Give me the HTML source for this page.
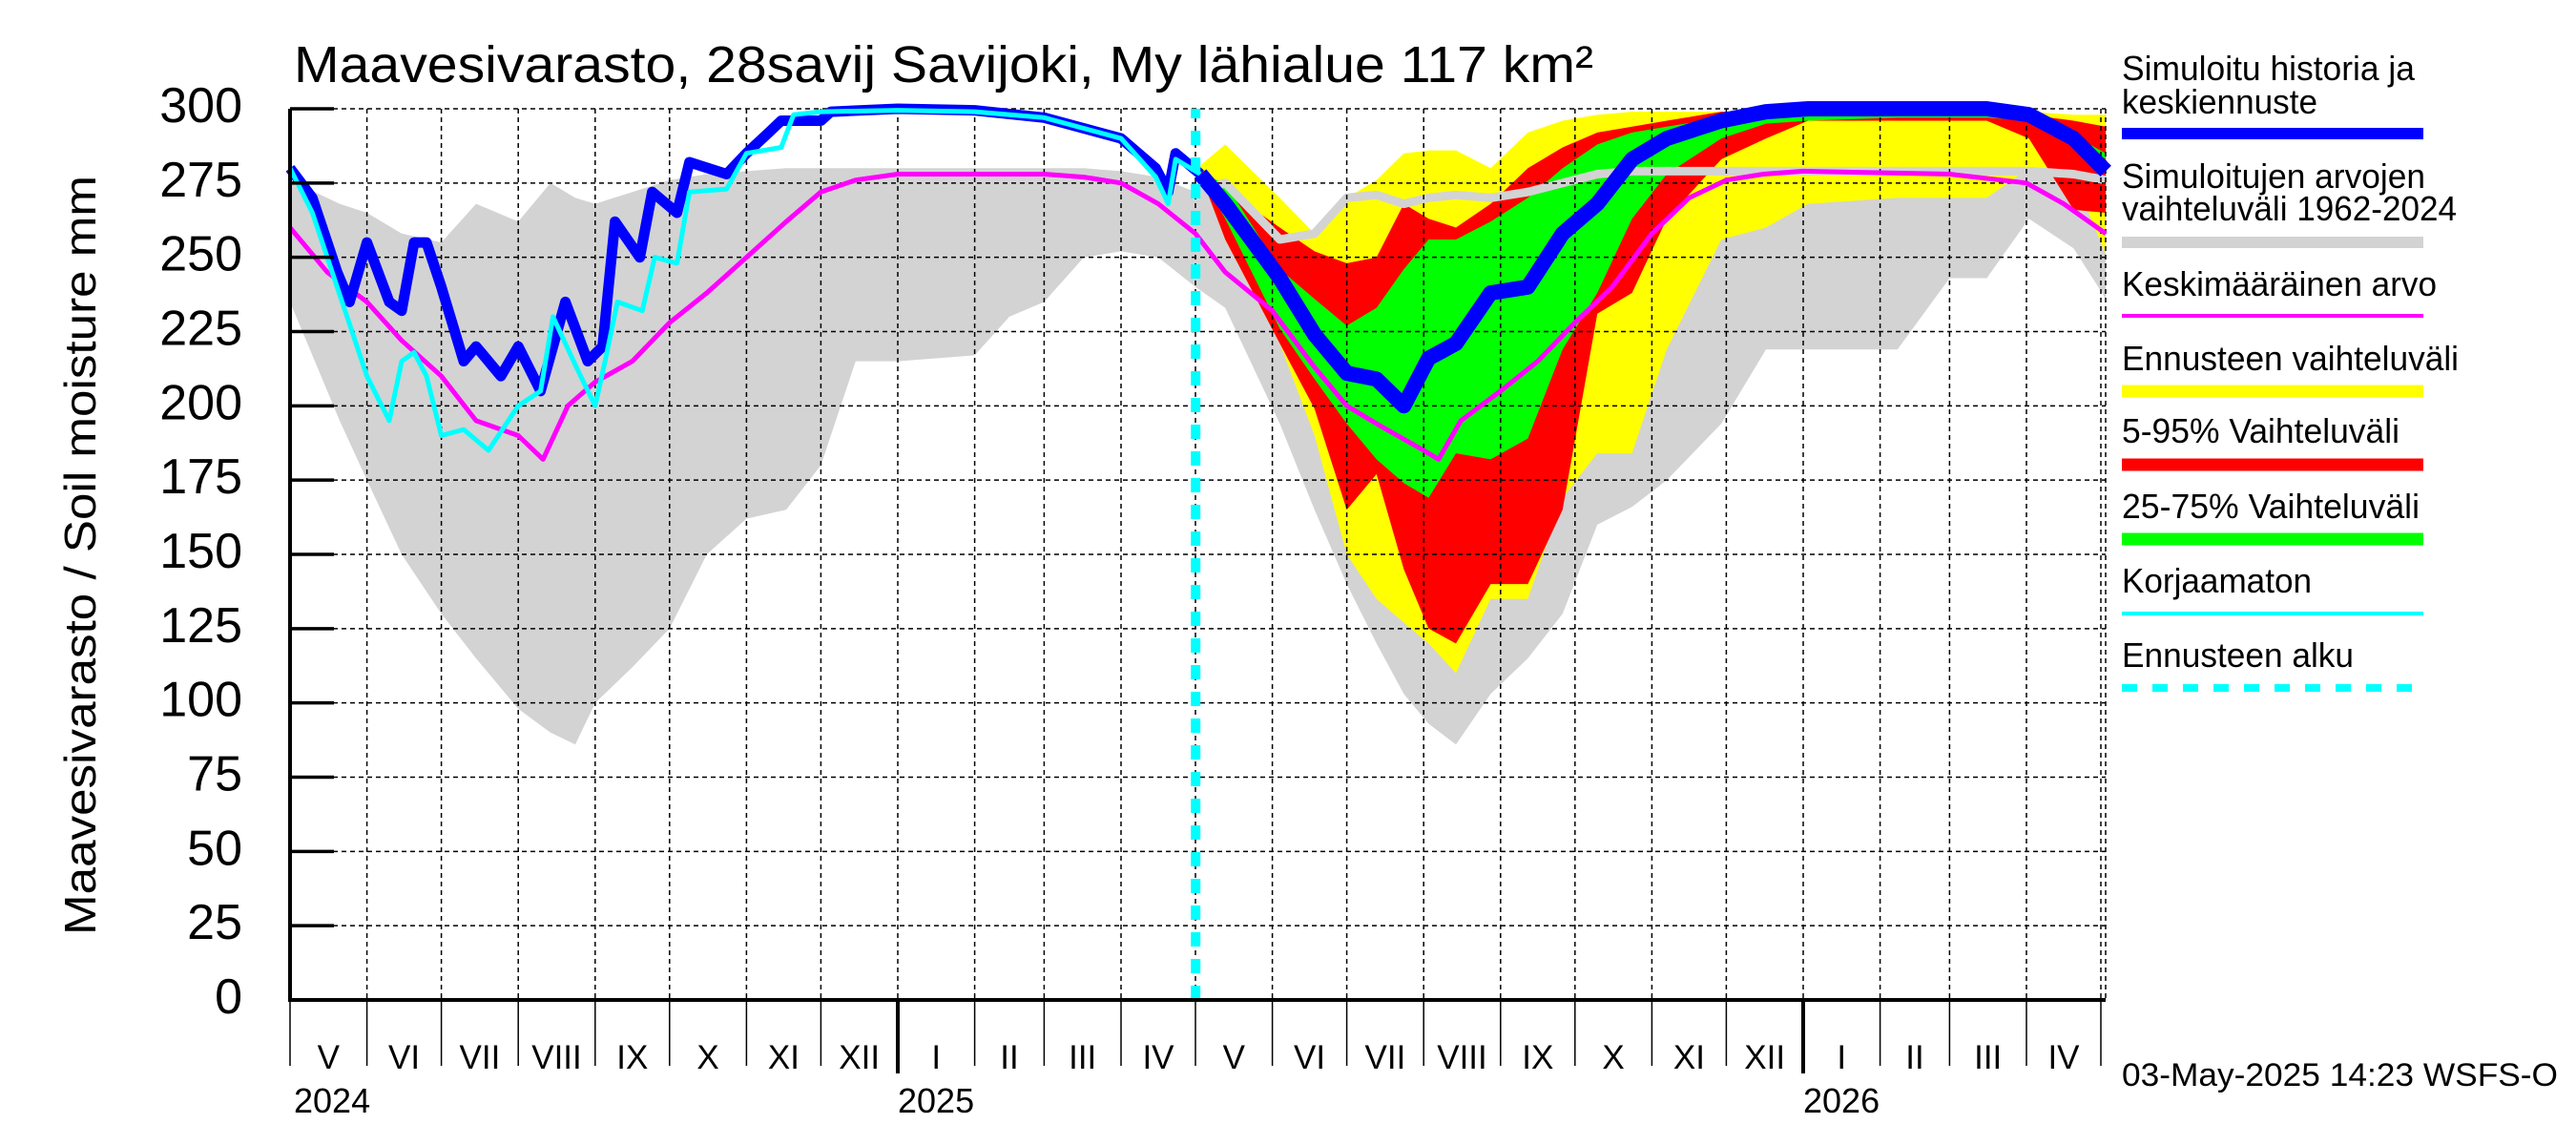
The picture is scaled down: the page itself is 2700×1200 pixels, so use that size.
<!DOCTYPE html>
<html><head><meta charset="utf-8"><style>
html,body{margin:0;padding:0;background:#fff;}
svg{display:block;font-family:"Liberation Sans",sans-serif;}
</style></head><body>
<svg id="chart" width="2700" height="1200" viewBox="0 0 2700 1200" xmlns="http://www.w3.org/2000/svg">
<text x="308" y="86" font-size="54" textLength="1362" lengthAdjust="spacingAndGlyphs">Maavesivarasto, 28savij Savijoki, My lähialue 117 km²</text>
<text transform="translate(100,582) rotate(-90)" text-anchor="middle" font-size="46" textLength="796" lengthAdjust="spacingAndGlyphs">Maavesivarasto / Soil moisture   mm</text>
<g id="plot"></g>
<g id="legend">
<text x="2224" y="84" font-size="36" textLength="307" lengthAdjust="spacingAndGlyphs">Simuloitu historia ja</text>
<text x="2224" y="119" font-size="36" textLength="205" lengthAdjust="spacingAndGlyphs">keskiennuste</text>
<line x1="2224" x2="2540" y1="140" y2="140" stroke="#0000ff" stroke-width="12"/>
<text x="2224" y="197" font-size="36" textLength="318" lengthAdjust="spacingAndGlyphs">Simuloitujen arvojen</text>
<text x="2224" y="231" font-size="36" textLength="351" lengthAdjust="spacingAndGlyphs">vaihteluväli 1962-2024</text>
<line x1="2224" x2="2540" y1="254" y2="254" stroke="#d3d3d3" stroke-width="12"/>
<text x="2224" y="310" font-size="36" textLength="330" lengthAdjust="spacingAndGlyphs">Keskimääräinen arvo</text>
<line x1="2224" x2="2540" y1="331" y2="331" stroke="#ff00ff" stroke-width="4"/>
<text x="2224" y="388" font-size="36" textLength="353" lengthAdjust="spacingAndGlyphs">Ennusteen vaihteluväli</text>
<line x1="2224" x2="2540" y1="410" y2="410" stroke="#ffff00" stroke-width="13"/>
<text x="2224" y="464" font-size="36" textLength="291" lengthAdjust="spacingAndGlyphs">5-95% Vaihteluväli</text>
<line x1="2224" x2="2540" y1="487" y2="487" stroke="#ff0000" stroke-width="13"/>
<text x="2224" y="543" font-size="36" textLength="312" lengthAdjust="spacingAndGlyphs">25-75% Vaihteluväli</text>
<line x1="2224" x2="2540" y1="565" y2="565" stroke="#00ff00" stroke-width="13"/>
<text x="2224" y="621" font-size="36" textLength="199" lengthAdjust="spacingAndGlyphs">Korjaamaton</text>
<line x1="2224" x2="2540" y1="643" y2="643" stroke="#00ffff" stroke-width="4"/>
<text x="2224" y="699" font-size="36" textLength="243" lengthAdjust="spacingAndGlyphs">Ennusteen alku</text>
<line x1="2224" x2="2540" y1="721" y2="721" stroke="#00ffff" stroke-width="8" stroke-dasharray="16,16"/>
</g>
<text x="2224" y="1138" font-size="34" textLength="457" lengthAdjust="spacingAndGlyphs">03-May-2025 14:23 WSFS-O</text>
</svg>
<script>
const yTicks = [0,25,50,75,100,125,150,175,200,225,250,275,300];
const monthLabels = ["V","VI","VII","VIII","IX","X","XI","XII","I","II","III","IV","V","VI","VII","VIII","IX","X","XI","XII","I","II","III","IV"];
const monthStartDays = [0,31,61,92,123,153,184,214,245,276,304,335,365,396,426,457,488,518,549,579,610,641,669,700,730];
const yearLabels = ["2024","2025","2026"];
const yearStartDays = [0,245,610];
const forecastStartDay = 367;

const climDays = [0,10,20,31,45,61,75,92,105,115,123,138,153,168,184,200,214,228,245,276,290,304,320,335,350,365,377,399,413,426,438,449,459,470,484,499,513,527,541,555,577,595,612,648,669,684,701,719,732];
const climHigh = [275,272,268,265,258,255,268,262,275,270,268,272,276,278,279,280,280,280,280,280,280,280,280,279,277,272,275,256,258,270,271,268,270,271,270,272,275,278,279,279,279,279,279,279,279,279,279,278,276];
const climLow = [235,215,195,175,150,130,115,98,90,86,100,112,125,150,162,165,180,215,215,217,230,235,250,252,250,240,233,194,165,140,120,103,93,86,103,115,130,160,166,175,194,219,219,219,243,243,263,253,236];

const meanDays = [0,15,31,45,61,75,92,102,112,123,138,153,168,184,200,214,228,245,304,320,335,350,365,377,396,413,426,440,457,463,472,488,503,518,533,549,564,579,594,610,669,700,715,732];
const meanVals = [260,245,235,222,210,195,190,182,200,208,215,228,238,250,262,272,276,278,278,277,275,268,258,245,232,213,200,193,185,182,195,205,215,228,240,258,270,276,278,279,278,275,268,258];

const histDays = [0,9,19,24,31,40,45,50,55,61,70,75,85,92,101,111,120,126,131,141,146,156,161,176,184,193,198,214,218,245,276,304,335,349,354,357,367];
const histVals = [280,270,245,235,255,235,232,255,255,240,215,220,210,220,205,235,215,220,262,250,272,265,282,278,285,292,296,296,299,300,299.5,297,290,280,272,285,278];
const rawDays = [0,9,19,31,40,45,50,55,61,70,80,92,101,106,116,123,127,132,142,147,156,161,176,184,198,203,214,245,276,304,335,349,354,357,367];
const rawVals = [280,265,240,210,195,215,218,210,190,192,185,200,205,230,212,200,215,235,232,250,248,272,273,285,287,298,299,299.5,299,297,290,277,268,283,278];

const fcDays = [367,377,399,413,426,438,449,459,470,484,499,513,527,541,555,577,595,612,648,684,701,719,732];
const fcYellowHigh = [281,288,270,258,270,276,285,286,286,280,292,296,298,299,299,299,299,299,299,299,299,298,298];
const fcRedHigh = [280,273,260,252,248,250,268,263,260,268,280,287,292,294,296,299,299,299,299,299,298,296,294];
const fcGreenHigh = [278,275,246,236,227,233,246,256,256,262,270,280,288,292,294,297,298,298,298,298,298,291,285];
const fcMedian = [278,268,243,224,211,209,200,216,221,238,240,258,268,283,290,296,299,300,300,300,298,290,279];
const fcGreenLow = [278,263,226,209,194,182,174,169,184,182,189,219,238,263,278,290,295,296,297,297,296,290,283];
const fcRedLow = [278,256,221,199,165,177,145,125,120,140,140,165,231,238,263,283,290,296,296,296,290,266,265];
const fcYellowLow = [278,256,221,190,150,135,127,120,110,135,135,169,184,184,219,256,260,268,270,270,280,277,251];

const NS = "http://www.w3.org/2000/svg";
const X0 = 304, X1 = 2207, Y0 = 1048, YT = 114;
const dayX = d => X0 + d * 2.6;
const valY = v => Y0 - (v / 300) * (Y0 - YT);
const plot = document.getElementById('plot');
function mk(tag, attrs){ const e = document.createElementNS(NS, tag); for (const k in attrs) e.setAttribute(k, attrs[k]); plot.appendChild(e); return e; }
function pts(days, vals){ return days.map((d,i)=>dayX(d).toFixed(1)+','+valY(vals[i]).toFixed(1)); }
function band(days, hi, lo){ return pts(days,hi).concat(pts(days,lo).reverse()).join(' '); }

let e;
e = mk('polygon', {points: band(climDays, climHigh, climLow), fill:'#d3d3d3'});


e = mk('polygon', {points: band(fcDays, fcYellowHigh, fcYellowLow), fill:'#ffff00'});


e = mk('polygon', {points: band(fcDays, fcRedHigh, fcRedLow), fill:'#ff0000'});


e = mk('polygon', {points: band(fcDays, fcGreenHigh, fcGreenLow), fill:'#00ff00'});


const climFcIdx = climDays.map((d,i)=>i).filter(i=>climDays[i]>=365);
e = mk('polyline', {points: climFcIdx.map(i=>dayX(climDays[i]).toFixed(1)+','+valY(climHigh[i]).toFixed(1)).join(' '), fill:'none', stroke:'#d3d3d3', 'stroke-width':9, 'stroke-linejoin':'round'});



// grid
yTicks.forEach(v=>{ if(v>0){
  e = mk('line', {x1:X0, x2:X1, y1:valY(v), y2:valY(v), stroke:'#000', 'stroke-width':1.5, 'stroke-dasharray':'5,4'});
  
  
}});
monthStartDays.forEach(d=>{ if(d>0){
  e = mk('line', {x1:dayX(d), x2:dayX(d), y1:YT, y2:Y0, stroke:'#000', 'stroke-width':1.5, 'stroke-dasharray':'5,4'});
  
  
}});
e = mk('line', {x1:X1, x2:X1, y1:YT, y2:Y0, stroke:'#000', 'stroke-width':1.5, 'stroke-dasharray':'5,4'});



// series lines
e = mk('polyline', {points: pts(meanDays, meanVals).join(' '), fill:'none', stroke:'#ff00ff', 'stroke-width':5, 'stroke-linejoin':'round'});


e = mk('polyline', {points: pts(histDays, histVals).join(' '), fill:'none', stroke:'#0000ff', 'stroke-width':11, 'stroke-linejoin':'round'});


e = mk('polyline', {points: pts(rawDays, rawVals).join(' '), fill:'none', stroke:'#00ffff', 'stroke-width':5, 'stroke-linejoin':'round'});


e = mk('polyline', {points: pts(fcDays, fcMedian).join(' '), fill:'none', stroke:'#0000ff', 'stroke-width':16, 'stroke-linejoin':'round'});


e = mk('line', {x1:dayX(forecastStartDay)-5, x2:dayX(forecastStartDay)-5, y1:Y0, y2:YT, stroke:'#00ffff', 'stroke-width':10, 'stroke-dasharray':'15,13'});



// axes
e = mk('polyline', {points: `${X0},${YT} ${X0},${Y0} ${X1},${Y0}`, fill:'none', stroke:'#000', 'stroke-width':4});


yTicks.forEach(v=>{
  e = mk('line', {x1:X0, x2:350, y1:valY(v), y2:valY(v), stroke:'#000', 'stroke-width':3.5});
  
  
  e = mk('text', {x:254, y:valY(v)+14, 'text-anchor':'end', 'font-size':52});
  e.textContent = v;
  
  
});
monthStartDays.forEach((d,i)=>{
  const yr = yearStartDays.indexOf(d) > 0;
  e = mk('line', {x1:dayX(d), x2:dayX(d), y1:Y0, y2: yr?1125:1117, stroke:'#000', 'stroke-width': yr?4:1.5});
  
  
  if (i < monthLabels.length){
    e = mk('text', {x:(dayX(d)+dayX(monthStartDays[i+1]))/2, y:1120, 'text-anchor':'middle', 'font-size':35});
    e.textContent = monthLabels[i];
    
    
  }
});
yearLabels.forEach((t,i)=>{
  e = mk('text', {x:dayX(yearStartDays[i])+ (i===0?4:0), y:1166, 'font-size':36});
  e.textContent = t;
  
  
});
</script>
</body></html>
